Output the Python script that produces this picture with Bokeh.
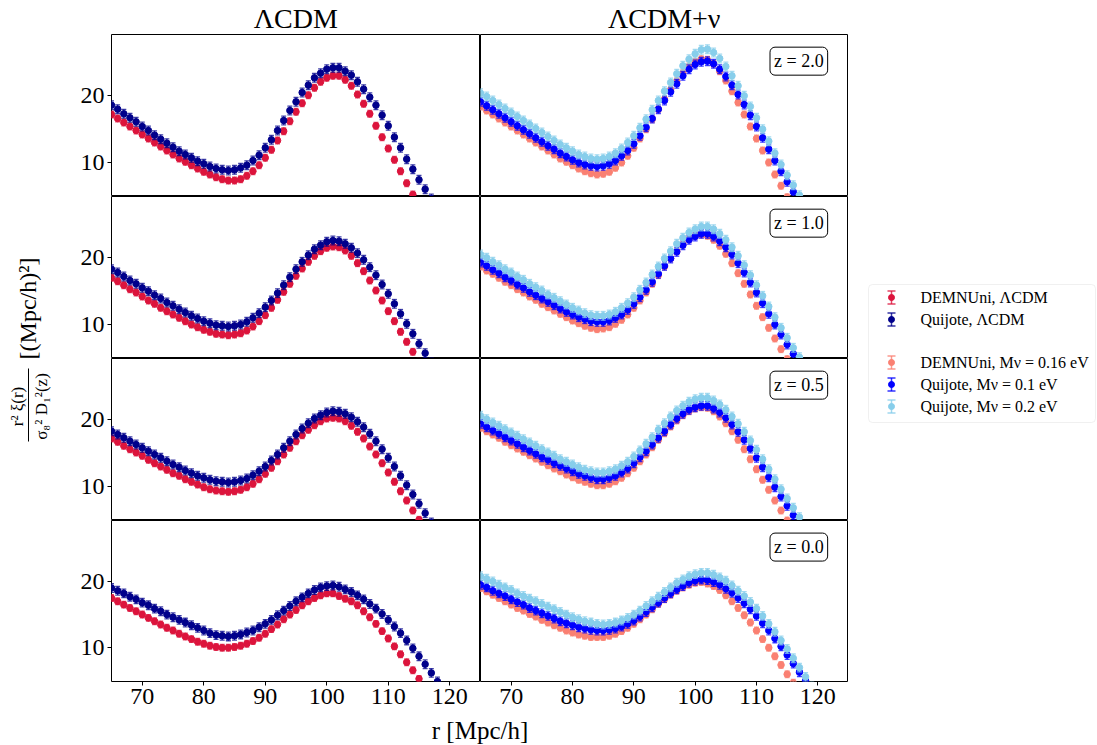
from math import pi
from bokeh.plotting import figure
from bokeh.layouts import row, column
from bokeh.models import Range1d, Label, FixedTicker, ColumnDataSource, BoxAnnotation
from bokeh.embed import file_html
from bokeh.resources import INLINE
from bokeh.core.properties import value

# ---------------- data (r in Mpc/h, first bin at r = 65, step 1) ----------------
r_first = 65
redshift_labels = ["2.0", "1.0", "0.5", "0.0"]
x_ticks = [70, 80, 90, 100, 110, 120]
y_ticks = [10, 20]

# Left column: LCDM
demnuni_lcdm_z20 = [17.2, 16.6, 16.0, 15.4, 14.8, 14.2, 13.6, 13.0, 12.4, 11.8, 11.2, 10.6, 10.1, 9.6, 9.1, 8.6, 8.2, 7.8, 7.5, 7.3,
                    7.3, 7.5, 8.0, 8.7, 9.6, 10.7, 11.9, 13.3, 14.7, 16.2, 17.6, 18.9, 20.1, 21.2, 22.1, 22.7, 23.0, 23.0, 22.4, 21.5,
                    20.2, 18.8, 17.3, 15.5, 13.8, 12.1, 10.4, 8.7, 6.9, 5.2, 3.6]
quijote_lcdm_z20 = [18.6, 18.0, 17.3, 16.7, 16.1, 15.4, 14.8, 14.1, 13.5, 12.9, 12.3, 11.7, 11.2, 10.7, 10.2, 9.8, 9.4, 9.1, 8.9, 8.8,
                    8.9, 9.2, 9.6, 10.3, 11.1, 12.2, 13.4, 14.8, 16.3, 17.8, 19.1, 20.5, 21.6, 22.7, 23.4, 24.0, 24.2, 24.2, 23.7, 23.1,
                    22.1, 21.0, 19.8, 18.6, 17.1, 15.5, 13.8, 12.2, 10.5, 9.0, 7.4, 6.0, 4.6]
demnuni_lcdm_z10 = [17.0, 16.5, 15.9, 15.3, 14.8, 14.2, 13.6, 13.1, 12.5, 12.0, 11.5, 11.0, 10.5, 10.0, 9.6, 9.2, 8.9, 8.6, 8.5, 8.4,
                    8.5, 8.7, 9.1, 9.7, 10.5, 11.4, 12.5, 13.7, 14.9, 16.1, 17.3, 18.4, 19.4, 20.3, 21.0, 21.5, 21.7, 21.6, 21.1, 20.3,
                    19.2, 18.0, 16.6, 15.1, 13.6, 12.0, 10.5, 8.9, 7.4, 5.9, 4.4]
quijote_lcdm_z10 = [18.3, 17.8, 17.2, 16.6, 16.1, 15.5, 15.0, 14.4, 13.9, 13.3, 12.8, 12.3, 11.8, 11.3, 10.9, 10.5, 10.2, 9.9, 9.8, 9.7,
                    9.8, 10.0, 10.4, 11.0, 11.7, 12.6, 13.6, 14.7, 15.9, 17.1, 18.3, 19.4, 20.4, 21.3, 21.9, 22.4, 22.6, 22.5, 22.1, 21.5,
                    20.7, 19.7, 18.6, 17.4, 16.0, 14.6, 13.1, 11.6, 10.1, 8.6, 7.1, 5.7, 4.3]
demnuni_lcdm_z05 = [17.2, 16.7, 16.1, 15.6, 15.1, 14.6, 14.0, 13.5, 13.0, 12.5, 12.0, 11.6, 11.1, 10.7, 10.3, 9.9, 9.6, 9.4, 9.3, 9.2,
                    9.3, 9.5, 9.9, 10.4, 11.1, 11.9, 12.8, 13.8, 14.8, 15.8, 16.8, 17.7, 18.5, 19.2, 19.8, 20.2, 20.3, 20.2, 19.8, 19.1,
                    18.2, 17.2, 16.0, 14.8, 13.5, 12.1, 10.7, 9.3, 7.9, 6.4, 5.0, 3.6]
quijote_lcdm_z05 = [18.3, 17.8, 17.3, 16.8, 16.3, 15.8, 15.3, 14.8, 14.3, 13.8, 13.3, 12.9, 12.4, 12.0, 11.6, 11.3, 11.0, 10.8, 10.7, 10.6,
                    10.7, 10.9, 11.2, 11.7, 12.3, 13.0, 13.9, 14.8, 15.8, 16.8, 17.8, 18.7, 19.5, 20.2, 20.7, 21.1, 21.3, 21.2, 20.9, 20.4,
                    19.7, 18.9, 17.9, 16.8, 15.6, 14.3, 13.0, 11.6, 10.2, 8.8, 7.4, 6.0, 4.6]
demnuni_lcdm_z00 = [17.5, 17.0, 16.5, 16.0, 15.5, 15.0, 14.5, 14.0, 13.5, 13.0, 12.6, 12.1, 11.7, 11.3, 10.9, 10.6, 10.3, 10.1, 10.0, 10.0,
                    10.1, 10.3, 10.6, 11.0, 11.5, 12.1, 12.8, 13.5, 14.3, 15.0, 15.7, 16.4, 17.0, 17.5, 17.9, 18.2, 18.2, 17.8, 17.4, 17.0,
                    16.4, 15.5, 14.6, 13.6, 12.5, 11.4, 10.2, 9.0, 7.8, 6.6, 5.3, 4.0]
quijote_lcdm_z00 = [19.0, 18.6, 18.2, 17.7, 17.3, 16.8, 16.4, 15.9, 15.5, 15.0, 14.6, 14.2, 13.8, 13.4, 13.0, 12.6, 12.2, 11.9, 11.8, 11.7,
                    11.8, 12.0, 12.3, 12.6, 13.1, 13.6, 14.2, 14.9, 15.6, 16.3, 17.0, 17.6, 18.2, 18.7, 19.1, 19.3, 19.4, 19.2, 18.8, 18.4,
                    17.9, 17.3, 16.6, 15.9, 15.1, 14.2, 13.2, 12.2, 11.1, 9.9, 8.7, 7.5, 6.2, 4.9]

# Right column: LCDM + massive neutrinos
demnuni_nu016_z20 = [18.4, 17.8, 17.2, 16.6, 16.0, 15.4, 14.8, 14.2, 13.6, 13.0, 12.4, 11.8, 11.2, 10.6, 10.1, 9.6, 9.1, 8.7, 8.4, 8.2,
                     8.3, 8.6, 9.2, 10.0, 11.0, 12.2, 13.6, 15.0, 16.5, 18.0, 19.5, 20.9, 22.2, 23.4, 24.4, 25.1, 25.5, 25.4, 24.8, 23.7,
                     22.3, 20.7, 19.0, 17.2, 15.4, 13.6, 11.8, 10.0, 8.2, 6.5, 4.8]
quijote_nu01_z20 = [19.1, 18.5, 17.9, 17.3, 16.7, 16.1, 15.5, 14.9, 14.3, 13.7, 13.1, 12.5, 12.0, 11.4, 10.9, 10.4, 10.0, 9.7, 9.5, 9.4,
                    9.5, 9.8, 10.3, 11.0, 11.8, 12.8, 14.0, 15.3, 16.6, 18.0, 19.3, 20.6, 21.8, 23.0, 24.0, 24.7, 25.1, 25.2, 24.8, 24.0,
                    22.9, 21.6, 20.2, 18.7, 17.1, 15.4, 13.7, 12.0, 10.3, 8.7, 7.1, 5.6, 4.2]
quijote_nu02_z20 = [20.4, 19.9, 19.3, 18.7, 18.1, 17.5, 16.9, 16.3, 15.7, 15.1, 14.5, 13.9, 13.3, 12.7, 12.2, 11.7, 11.2, 10.9, 10.6, 10.5,
                    10.6, 10.9, 11.4, 12.1, 13.0, 14.0, 15.2, 16.5, 17.9, 19.3, 20.7, 22.0, 23.3, 24.5, 25.5, 26.3, 26.9, 27.0, 26.5, 25.6,
                    24.4, 23.0, 21.5, 20.0, 18.4, 16.7, 15.0, 13.2, 11.4, 9.7, 8.1, 6.6, 5.1, 3.7]
demnuni_nu016_z10 = [18.7, 18.1, 17.6, 17.0, 16.4, 15.9, 15.3, 14.8, 14.2, 13.7, 13.1, 12.6, 12.1, 11.6, 11.1, 10.6, 10.2, 9.8, 9.5, 9.3,
                     9.4, 9.6, 10.1, 10.7, 11.5, 12.5, 13.6, 14.8, 16.1, 17.4, 18.7, 19.9, 21.0, 22.0, 22.8, 23.3, 23.5, 23.3, 22.7, 21.8,
                     20.6, 19.2, 17.7, 16.1, 14.5, 12.8, 11.1, 9.5, 7.9, 6.3, 4.8]
quijote_nu01_z10 = [19.3, 18.8, 18.2, 17.7, 17.1, 16.6, 16.0, 15.5, 14.9, 14.4, 13.9, 13.4, 12.9, 12.4, 11.9, 11.5, 11.1, 10.8, 10.5, 10.4,
                    10.4, 10.6, 11.0, 11.5, 12.2, 13.1, 14.1, 15.2, 16.4, 17.6, 18.8, 19.9, 20.9, 21.9, 22.7, 23.2, 23.6, 23.6, 23.2, 22.5,
                    21.6, 20.5, 19.2, 17.8, 16.3, 14.8, 13.2, 11.6, 10.0, 8.5, 7.0, 5.6, 4.2]
quijote_nu02_z10 = [20.5, 20.0, 19.4, 18.9, 18.3, 17.8, 17.2, 16.7, 16.1, 15.6, 15.1, 14.5, 14.0, 13.5, 13.0, 12.5, 12.1, 11.7, 11.4, 11.3,
                    11.3, 11.5, 11.9, 12.5, 13.2, 14.1, 15.2, 16.3, 17.5, 18.7, 19.9, 21.0, 22.1, 23.0, 23.8, 24.3, 24.7, 24.7, 24.3, 23.6,
                    22.7, 21.6, 20.3, 18.9, 17.4, 15.9, 14.3, 12.7, 11.1, 9.5, 8.0, 6.5, 5.1, 3.7]
demnuni_nu016_z05 = [18.8, 18.3, 17.8, 17.3, 16.7, 16.2, 15.7, 15.2, 14.7, 14.2, 13.7, 13.2, 12.7, 12.3, 11.8, 11.4, 11.0, 10.7, 10.4, 10.2,
                     10.2, 10.4, 10.8, 11.3, 12.0, 12.8, 13.8, 14.8, 15.9, 17.0, 18.0, 19.0, 19.9, 20.7, 21.3, 21.7, 21.9, 21.8, 21.3, 20.5,
                     19.5, 18.3, 17.0, 15.6, 14.1, 12.6, 11.0, 9.5, 7.9, 6.4, 4.9]
quijote_nu01_z05 = [19.4, 18.9, 18.4, 17.9, 17.4, 16.9, 16.4, 15.9, 15.4, 14.9, 14.4, 14.0, 13.5, 13.1, 12.7, 12.3, 11.9, 11.6, 11.3, 11.1,
                    11.1, 11.3, 11.6, 12.1, 12.7, 13.5, 14.4, 15.3, 16.3, 17.3, 18.3, 19.3, 20.2, 20.9, 21.5, 21.9, 22.1, 22.1, 21.7, 21.1,
                    20.3, 19.3, 18.2, 17.0, 15.7, 14.3, 12.9, 11.4, 9.9, 8.5, 7.1, 5.7, 4.3]
quijote_nu02_z05 = [20.6, 20.1, 19.6, 19.1, 18.6, 18.1, 17.6, 17.1, 16.6, 16.1, 15.6, 15.1, 14.6, 14.1, 13.7, 13.3, 12.9, 12.5, 12.3, 12.1,
                    12.1, 12.3, 12.6, 13.1, 13.7, 14.5, 15.4, 16.4, 17.4, 18.5, 19.5, 20.5, 21.4, 22.1, 22.7, 23.1, 23.3, 23.3, 22.9, 22.3,
                    21.5, 20.5, 19.4, 18.2, 16.9, 15.5, 14.1, 12.6, 11.1, 9.6, 8.2, 6.8, 5.4, 4.0]
demnuni_nu016_z00 = [19.0, 18.5, 18.0, 17.5, 17.0, 16.5, 16.0, 15.6, 15.1, 14.7, 14.2, 13.8, 13.4, 13.0, 12.6, 12.3, 12.0, 11.8, 11.6, 11.6,
                     11.6, 11.8, 12.1, 12.5, 13.0, 13.6, 14.3, 15.0, 15.8, 16.6, 17.3, 18.0, 18.6, 19.1, 19.5, 19.8, 19.9, 19.7, 19.3, 18.7,
                     17.9, 17.0, 16.0, 14.9, 13.8, 12.6, 11.3, 10.0, 8.7, 7.4, 6.0, 4.7]
quijote_nu01_z00 = [19.5, 19.1, 18.6, 18.2, 17.8, 17.3, 16.9, 16.5, 16.0, 15.6, 15.2, 14.8, 14.4, 14.0, 13.7, 13.4, 13.1, 12.9, 12.7, 12.6,
                    12.6, 12.7, 12.9, 13.2, 13.6, 14.1, 14.7, 15.4, 16.1, 16.8, 17.5, 18.2, 18.8, 19.3, 19.8, 20.1, 20.3, 20.2, 19.9, 19.5,
                    18.9, 18.3, 17.5, 16.7, 15.8, 14.8, 13.7, 12.6, 11.4, 10.2, 8.9, 7.6, 6.3, 5.0]
quijote_nu02_z00 = [20.8, 20.4, 20.0, 19.5, 19.1, 18.7, 18.2, 17.8, 17.4, 17.0, 16.6, 16.2, 15.8, 15.4, 15.0, 14.6, 14.3, 14.0, 13.8, 13.6,
                    13.5, 13.6, 13.8, 14.1, 14.5, 15.0, 15.6, 16.3, 17.0, 17.7, 18.4, 19.1, 19.8, 20.3, 20.8, 21.1, 21.3, 21.3, 21.0, 20.6,
                    20.1, 19.4, 18.6, 17.8, 16.9, 15.9, 14.8, 13.6, 12.4, 11.1, 9.8, 8.4, 7.0, 5.6, 4.2]

# error-bar half widths per series
err_demnuni_lcdm = 0.5
err_quijote_lcdm = 0.65
err_demnuni_nu016 = 0.5
err_quijote_nu01 = 0.65
err_quijote_nu02 = 0.65

left_panels = [
    [demnuni_lcdm_z20, quijote_lcdm_z20],
    [demnuni_lcdm_z10, quijote_lcdm_z10],
    [demnuni_lcdm_z05, quijote_lcdm_z05],
    [demnuni_lcdm_z00, quijote_lcdm_z00],
]
right_panels = [
    [demnuni_nu016_z20, quijote_nu01_z20, quijote_nu02_z20],
    [demnuni_nu016_z10, quijote_nu01_z10, quijote_nu02_z10],
    [demnuni_nu016_z05, quijote_nu01_z05, quijote_nu02_z05],
    [demnuni_nu016_z00, quijote_nu01_z00, quijote_nu02_z00],
]
left_styles = [("DEMNUni, ΛCDM", "#dc143c", err_demnuni_lcdm),
               ("Quijote, ΛCDM", "#00008b", err_quijote_lcdm)]
right_styles = [("DEMNUni, Mν = 0.16 eV", "#fa8072", err_demnuni_nu016),
                ("Quijote, Mν = 0.1 eV", "#0000ff", err_quijote_nu01),
                ("Quijote, Mν = 0.2 eV", "#87ceeb", err_quijote_nu02)]

# ---------------- styling / layout ----------------
SERIF = "Liberation Serif"
YLAB_W, LEFT_B = 61, 50
FW_L, FW_R = 369, 368
FH = [162, 162, 162, 161]
BOTTOM_B = 34
HEAD_H, XLAB_H = 34, 29
LEG_W = 248
TOTAL_H = HEAD_H + sum(FH) + BOTTOM_B + XLAB_H

x_rng = Range1d(65, 125)
y_rng = Range1d(4.9, 29.2)


def draw_series(p, vals, color, err):
    r = list(range(r_first, r_first + len(vals)))
    src = ColumnDataSource(dict(r=r, y=vals, lo=[v - err for v in vals], hi=[v + err for v in vals]))
    p.segment(x0="r", y0="lo", x1="r", y1="hi", source=src, line_color=color, line_width=1.3, line_alpha=0.75)
    p.scatter(x="r", y="lo", marker="dash", size=5, source=src, line_color=color, line_width=1.3, line_alpha=0.75)
    p.scatter(x="r", y="hi", marker="dash", size=5, source=src, line_color=color, line_width=1.3, line_alpha=0.75)
    p.scatter(x="r", y="y", size=6.5, source=src, fill_color=color, line_color=color)


def make_panel(i, j):
    left = j == 0
    bottom = i == 3
    p = figure(frame_width=FW_L if left else FW_R, frame_height=FH[i],
               x_range=x_rng, y_range=y_rng,
               x_axis_location="below" if bottom else None,
               y_axis_location="left" if left else None,
               min_border_left=LEFT_B if left else 0, min_border_right=0,
               min_border_top=0, min_border_bottom=BOTTOM_B if bottom else 0,
               output_backend="svg", toolbar_location=None, tools="")
    p.grid.visible = False
    p.outline_line_color = "black"
    p.outline_line_alpha = 1.0
    p.outline_line_width = 1
    p.background_fill_color = "white"
    p.border_fill_color = "white"
    for ax, ticks in ((p.xaxis, x_ticks), (p.yaxis, y_ticks)):
        if len(ax) == 0:
            continue
        ax.ticker = FixedTicker(ticks=ticks)
        ax.major_tick_in = 0
        ax.major_tick_out = 4
        ax.minor_tick_in = 0
        ax.minor_tick_out = 0
        ax.axis_line_color = None
        ax.major_tick_line_color = "black"
        ax.major_label_text_font = SERIF
        ax.major_label_text_font_size = "24px"
        ax.major_label_text_color = "black"
        ax.major_label_standoff = 3
    if left:
        for vals, (lab, col, err) in zip(left_panels[i], left_styles):
            draw_series(p, vals, col, err)
    else:
        for vals, (lab, col, err) in zip(right_panels[i], right_styles):
            draw_series(p, vals, col, err)
        p.add_layout(Label(x=121.6, y=27.3, text=f"z = {redshift_labels[i]}",
                           text_align="right", text_baseline="top",
                           text_font=SERIF, text_font_size="18px", text_color="black",
                           border_line_color="black", border_line_width=1,
                           background_fill_color="white", background_fill_alpha=1.0,
                           padding=4, border_radius=5))
    return p


def blank_fig(fw, fh, xr, yr, left=0):
    f = figure(frame_width=fw, frame_height=fh, x_range=xr, y_range=yr,
               x_axis_location=None, y_axis_location=None,
               min_border_left=left, min_border_right=0, min_border_top=0, min_border_bottom=0,
               output_backend="svg", toolbar_location=None, tools="")
    f.grid.visible = False
    f.outline_line_color = None
    f.background_fill_color = "white"
    f.border_fill_color = "white"
    return f


panel_rows = [row(make_panel(i, 0), make_panel(i, 1), spacing=0) for i in range(4)]

# column titles
head = blank_fig(FW_L + FW_R, HEAD_H, Range1d(0, 2), Range1d(0, HEAD_H), left=LEFT_B)
head.text(x=[0.5, 1.5], y=[16, 16], text=["ΛCDM", "ΛCDM+ν"], text_align="center",
          text_baseline="middle", text_font=value(SERIF), text_font_size="28px", text_color="black")

# x-axis label
xlab = blank_fig(FW_L + FW_R, XLAB_H, Range1d(0, 2), Range1d(0, XLAB_H), left=LEFT_B)
xlab.text(x=[1], y=[14], text=["r [Mpc/h]"], text_align="center", text_baseline="middle",
          text_font=value(SERIF), text_font_size="25px", text_color="black")

# y-axis label (pixel-like frame, y measured downward from the top)
ylab = blank_fig(YLAB_W, TOTAL_H, Range1d(0, YLAB_W), Range1d(TOTAL_H, 0))
ylab.text(x=[27], y=[308], text=["[(Mpc/h)²]"], angle=pi / 2, text_align="center", text_baseline="middle",
          text_font=value(SERIF), text_font_size="24px", text_color="black")
ylab.text(x=[17], y=[406], text=["r² ξ(r)"], angle=pi / 2, text_align="center", text_baseline="middle",
          text_font=value(SERIF), text_font_size="17px", text_color="black")
ylab.text(x=[41], y=[406], text=["σ₈² D₁²(z)"], angle=pi / 2, text_align="center", text_baseline="middle",
          text_font=value(SERIF), text_font_size="17px", text_color="black")
ylab.segment(x0=[28], y0=[368], x1=[28], y1=[441], line_color="black", line_width=1)

# legend, drawn in a pixel-like frame (x from the legend column's left edge, y downward)
leg = blank_fig(LEG_W, TOTAL_H, Range1d(0, LEG_W), Range1d(TOTAL_H, 0))
leg.add_layout(BoxAnnotation(left=20, right=247, top=284, bottom=422, fill_color="white", fill_alpha=1.0,
                             line_color="#cccccc", line_width=1, border_radius=4, level="underlay"))
legend_labels = [s[0] for s in left_styles] + [s[0] for s in right_styles]
legend_colors = [s[1] for s in left_styles] + [s[1] for s in right_styles]
legend_rows = [297, 319, 362, 384, 406]
lsrc = ColumnDataSource(dict(x=[43] * 5, y=legend_rows, lo=[v - 6.5 for v in legend_rows],
                             hi=[v + 6.5 for v in legend_rows], c=legend_colors,
                             tx=[72] * 5, t=legend_labels))
leg.segment(x0="x", y0="lo", x1="x", y1="hi", source=lsrc, line_color="c", line_width=1.5, line_alpha=0.8)
leg.scatter(x="x", y="lo", marker="dash", size=8, source=lsrc, line_color="c", line_width=1.5, line_alpha=0.8)
leg.scatter(x="x", y="hi", marker="dash", size=8, source=lsrc, line_color="c", line_width=1.5, line_alpha=0.8)
leg.scatter(x="x", y="y", size=6, source=lsrc, fill_color="c", line_color="c")
leg.text(x="tx", y="y", text="t", source=lsrc, text_align="left", text_baseline="middle",
         text_font=value(SERIF), text_font_size="16px", text_color="black")

layout = row(ylab, column(head, *panel_rows, xlab, spacing=0), leg, spacing=0)

open("out.html", "w").write(file_html(layout, INLINE))
